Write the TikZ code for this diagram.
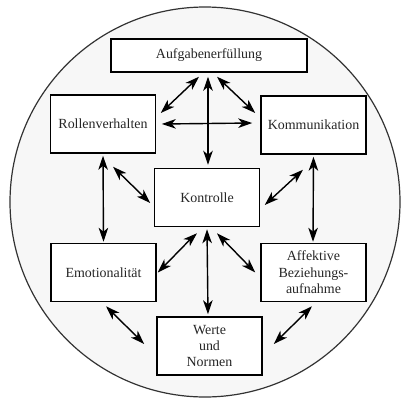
\documentclass[tikz,border=0pt]{standalone}
\usepackage{fontspec}
\setmainfont{Liberation Serif}
\usetikzlibrary{arrows.meta}

\begin{document}
\begin{tikzpicture}[x=1bp,y=-1bp,
  box/.style={draw=black,line width=1.5bp,fill=white,minimum width=105bp,minimum height=58bp,inner sep=1bp,align=center,text=black!85,font=\fontsize{14}{16.5}\selectfont},
  link/.style={line width=1.4bp,{Stealth[length=14bp,width=9.5bp,inset=4bp]}-{Stealth[length=14bp,width=9.5bp,inset=4bp]}}]
\useasboundingbox (0,0) rectangle (401,400);
\draw [line width=1.2bp,black!80,fill=black!3] (205,202) circle (195);
\node [box,minimum width=196bp,minimum height=33bp] (aufg) at (209,55.5) {Aufgabenerf\"ullung};
\node [box] (rollen) at (103,124) {Rollenverhalten};
\node [box] (komm) at (313.5,125) {Kommunikation};
\node [box] (kontr) at (207,197.5) {Kontrolle};
\node [box] (emot) at (103.5,272.5) {Emotionalit\"at};
\node [box] (affekt) at (313.5,272.5) {Affektive\\Beziehungs-\\aufnahme};
\node [box] (werte) at (209.5,346) {Werte\\und\\Normen};
% arrows from the top box
\draw [link] ([shift={(-10,4)}]aufg.south) -- ([shift={(4.5,-11)}]rollen.east);
\draw [link] ([shift={(-1,4)}]aufg.south) -- ([shift={(1,-3)}]kontr.north);
\draw [link] ([shift={(8,4)}]aufg.south) -- ([shift={(-5,-12)}]komm.west);
\draw [link] ([shift={(5.5,0)}]rollen.east) -- ([shift={(-8,-2)}]komm.west);
% side columns
\draw [link] ([shift={(0,2)}]rollen.south) -- ([shift={(0,-1)}]emot.north);
\draw [link] ([shift={(0,2)}]komm.south) -- ([shift={(-0.5,-1)}]affekt.north);
% into the centre box
\draw [link] ([shift={(10,13)}]rollen.south) -- ([shift={(-3.5,5.5)}]kontr.west);
\draw [link] ([shift={(-10.5,15)}]komm.south) -- ([shift={(4.5,7.5)}]kontr.east);
\draw [link] ([shift={(-10,6)}]kontr.south) -- ([shift={(1,0)}]emot.east);
\draw [link] ([shift={(0,2)}]kontr.south) -- ([shift={(-1.5,-2)}]werte.north);
\draw [link] ([shift={(10,6)}]kontr.south) -- ([shift={(-5,0)}]affekt.west);
% bottom box
\draw [link] ([shift={(2.5,4)}]emot.south) -- ([shift={(-12,-2)}]werte.west);
\draw [link] ([shift={(-1.5,4)}]affekt.south) -- ([shift={(11,-2)}]werte.east);
\end{tikzpicture}
\end{document}
